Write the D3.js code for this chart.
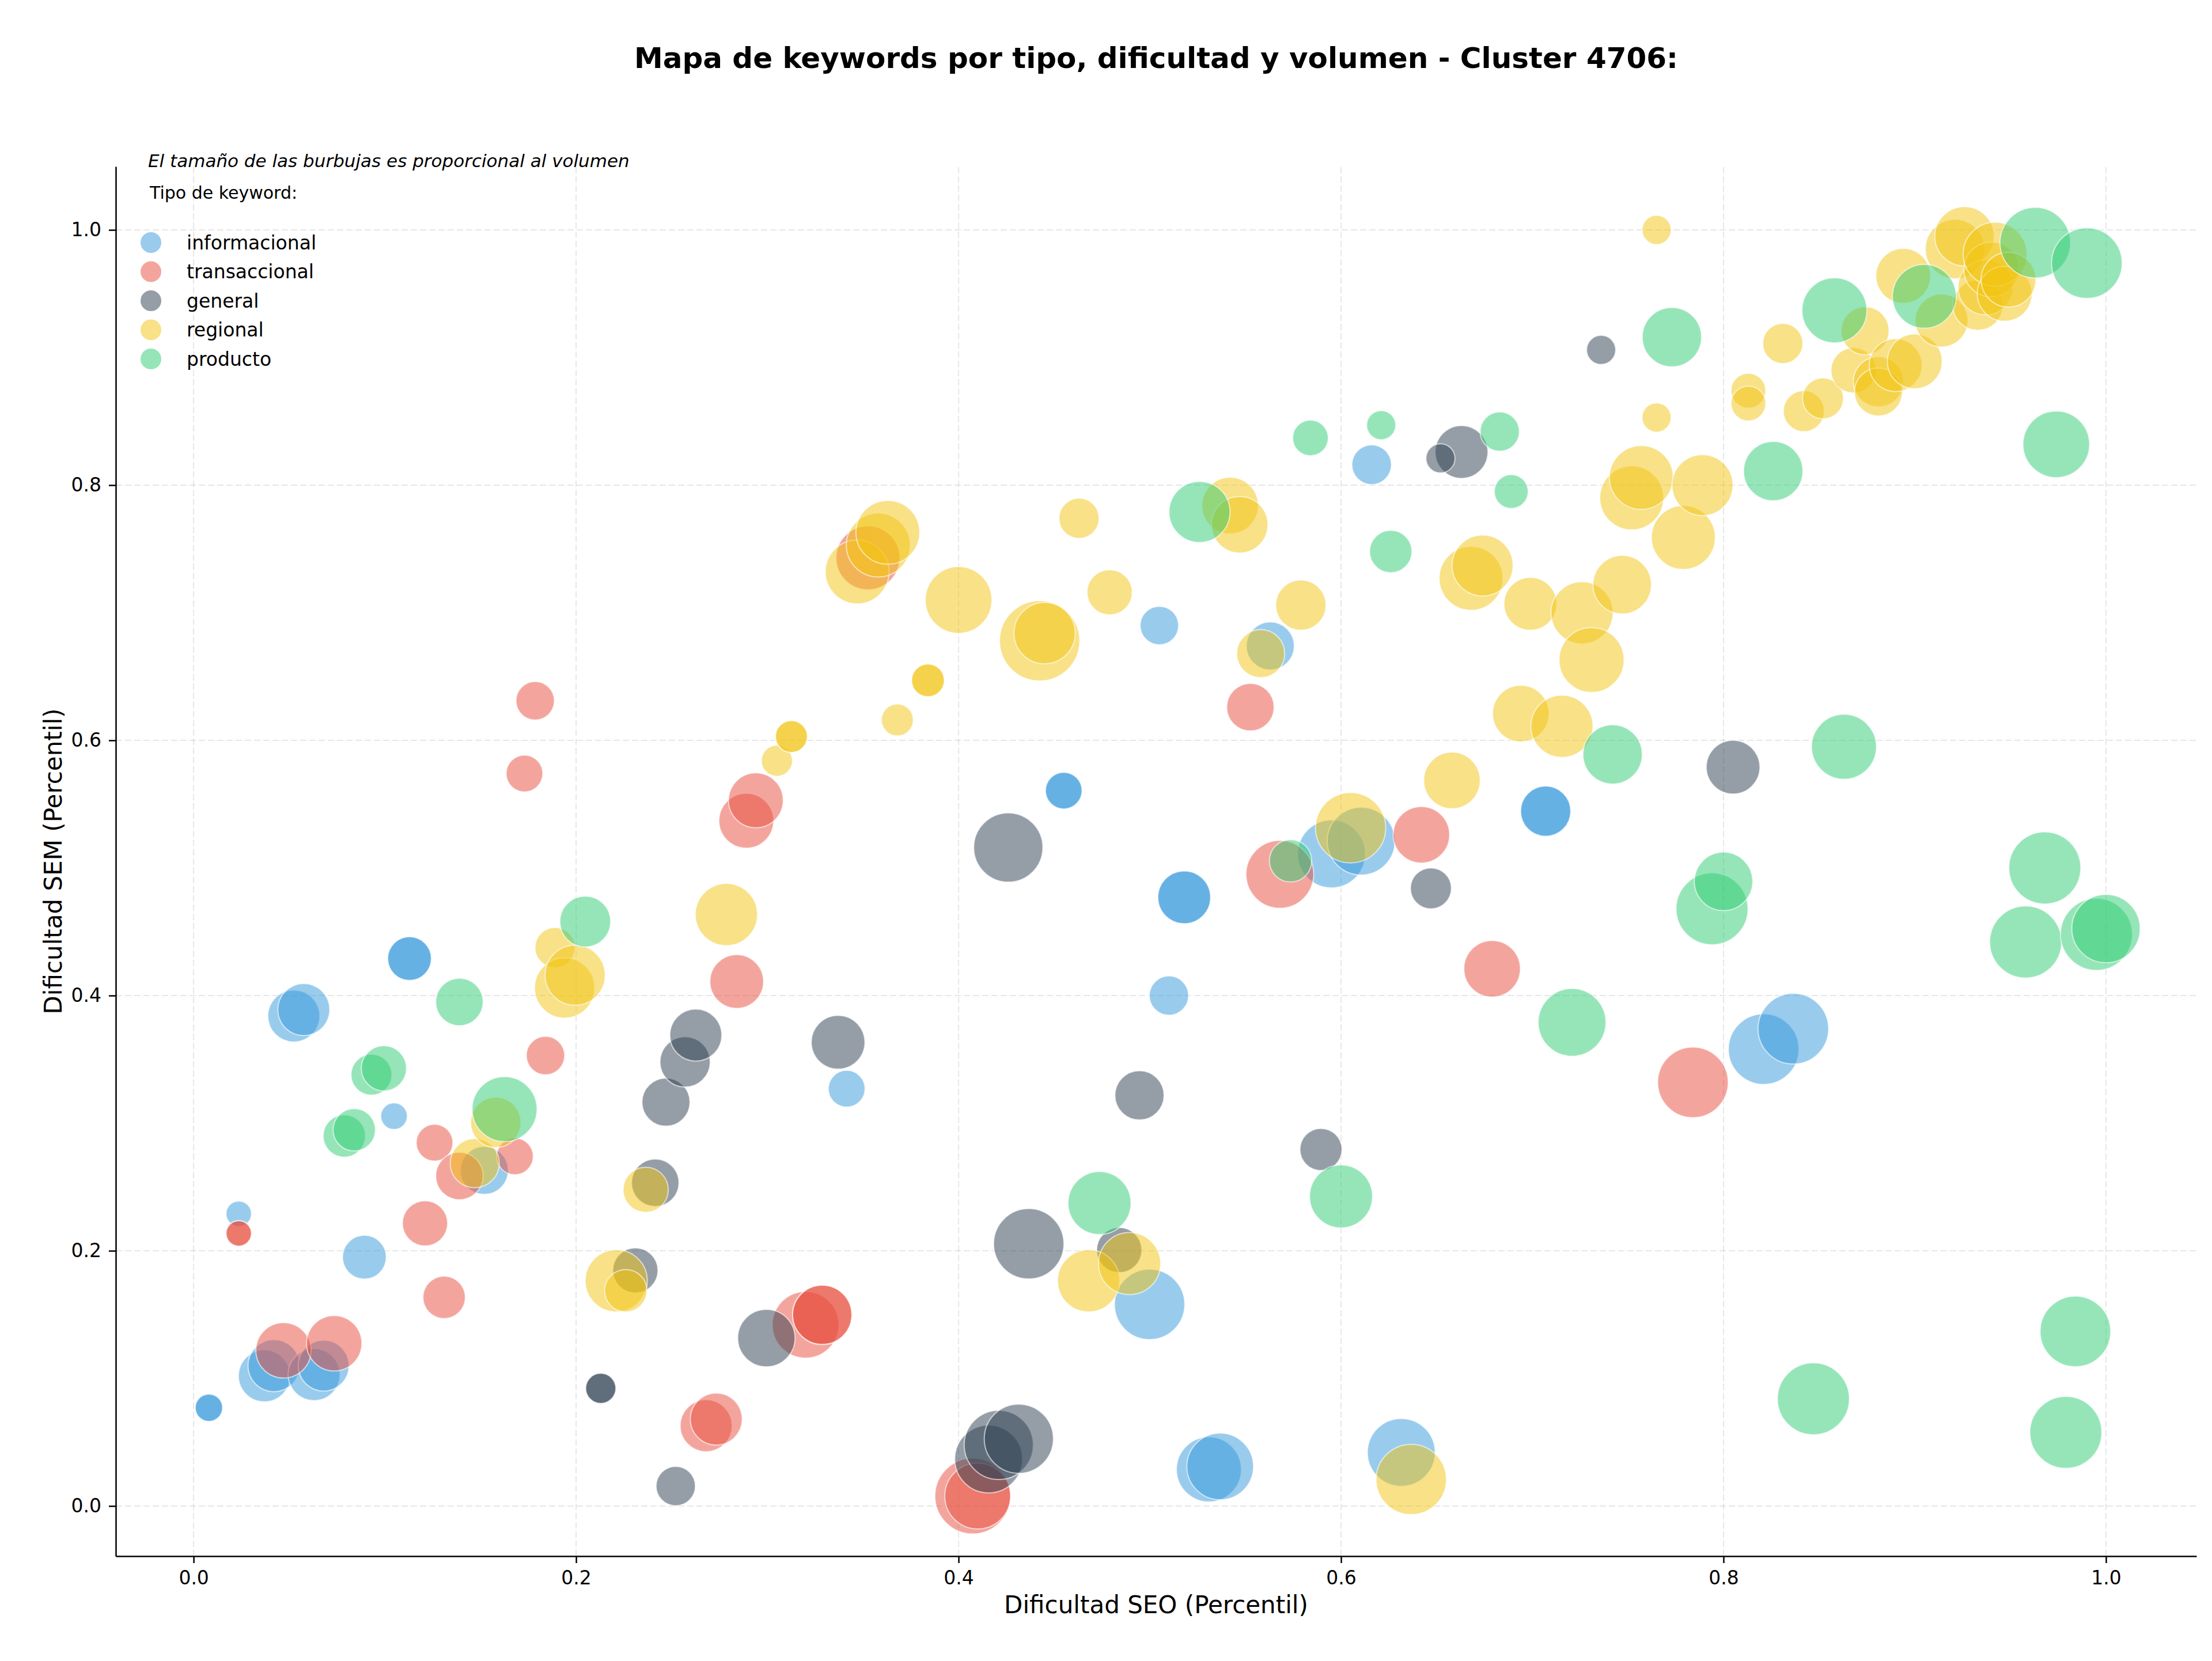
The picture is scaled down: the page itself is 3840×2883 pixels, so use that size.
<!DOCTYPE html>
<meta charset="utf-8">
<script src="https://d3js.org/d3.v7.min.js"></script>
<style>
body { margin: 0; background: #fff; }
text { font-family: "DejaVu Sans", sans-serif; fill: #000; }
.grid line { stroke: #b0b0b0; stroke-opacity: 0.3; stroke-width: 2; stroke-dasharray: 11,5; }
.axis path, .axis line { stroke: #000; stroke-width: 2.5; }
.axis text { font-size: 33px; }
</style>
<body>
<div id="chart"></div>
<script>
// [dificultad SEO, dificultad SEM, volumen]
var informacional = [
  [0.008,0.077,941],[0.008,0.077,941],[0.0236,0.229,810],
  [0.037,0.102,3386],[0.042,0.110,3386],[0.063,0.103,3386],[0.068,0.110,3240],
  [0.0524,0.384,3386],[0.0576,0.389,3386],[0.0893,0.195,2403],[0.1048,0.3055,884],
  [0.1129,0.429,2403],[0.1129,0.429,2403],[0.152,0.263,2890],[0.3415,0.327,1690],
  [0.455,0.5606,1690],[0.455,0.5606,1690],[0.4999,0.158,6200],[0.505,0.690,1850],
  [0.510,0.400,1932],[0.518,0.477,3497],[0.518,0.477,3497],[0.5309,0.0287,5290],
  [0.5368,0.031,5570],[0.563,0.674,2890],[0.595,0.511,5760],[0.6105,0.521,5760],
  [0.616,0.816,1960],[0.6315,0.042,5760],[0.707,0.5445,3168],[0.707,0.5445,3168],
  [0.821,0.358,6250],[0.8365,0.374,6250]
];
var transaccional = [
  [0.0236,0.2136,810],[0.0236,0.2136,810],[0.047,0.122,3842],[0.0735,0.1275,3842],
  [0.121,0.2215,2560],[0.126,0.2847,1690],[0.131,0.1635,2250],[0.139,0.2586,2822],
  [0.168,0.274,1690],[0.173,0.574,1690],[0.1786,0.631,1850],[0.184,0.353,1850],
  [0.268,0.0629,3386],[0.2733,0.0681,3386],[0.284,0.411,3610],[0.289,0.537,3764],
  [0.294,0.553,3764],[0.320,0.142,5570],[0.3287,0.1498,4410],[0.3287,0.1498,4410],
  [0.3526,0.743,5108],[0.4074,0.0078,7182],[0.410,0.0078,5430],[0.5526,0.626,2822],
  [0.568,0.495,5760],[0.642,0.526,4000],[0.679,0.421,4000],[0.784,0.332,6250]
];
var general = [
  [0.2129,0.0922,1145],[0.2129,0.0922,1145],[0.231,0.1846,2560],[0.2414,0.2533,2822],
  [0.247,0.3165,2890],[0.2521,0.0156,1932],[0.257,0.348,3168],[0.2626,0.369,3386],
  [0.2995,0.1316,4121],[0.337,0.3634,3610],[0.4157,0.0368,5760],[0.421,0.0478,6000],
  [0.4315,0.0527,6000],[0.426,0.516,6000],[0.4367,0.2055,6200],[0.484,0.2006,2560],
  [0.4946,0.3218,3028],[0.5895,0.2794,2220],[0.647,0.484,2103],[0.663,0.826,3497],
  [0.652,0.821,1061],[0.736,0.906,1061],[0.805,0.579,3610]
];
var regional = [
  [0.147,0.2687,3028],[0.158,0.3006,3168],[0.189,0.4376,2016],[0.194,0.406,4537],
  [0.1995,0.416,4537],[0.221,0.1765,4840],[0.226,0.1687,2250],[0.2364,0.2478,2560],
  [0.2786,0.4635,4840],[0.305,0.584,1210],[0.3126,0.603,1277],[0.3126,0.603,1277],
  [0.347,0.732,5108],[0.358,0.753,5108],[0.363,0.763,5108],[0.368,0.616,1277],
  [0.384,0.647,1346],[0.384,0.647,1346],[0.400,0.710,5570],[0.4424,0.678,8066],
  [0.445,0.684,4709],[0.463,0.774,2016],[0.468,0.1765,4840],[0.479,0.716,2560],
  [0.4894,0.19,4840],[0.542,0.784,4000],[0.547,0.769,4000],[0.558,0.668,2890],
  [0.579,0.706,3168],[0.605,0.5315,6200],[0.6367,0.0208,6200],[0.658,0.5686,4000],
  [0.668,0.727,5108],[0.674,0.737,4666],[0.694,0.621,4000],[0.699,0.707,3497],
  [0.7155,0.611,4840],[0.726,0.700,4840],[0.731,0.663,5290],[0.747,0.722,4285],
  [0.752,0.790,5108],[0.757,0.806,5108],[0.765,1.0,1061],[0.765,0.853,1061],
  [0.779,0.759,5108],[0.789,0.800,4666],[0.813,0.874,1513],[0.813,0.864,1513],
  [0.831,0.911,2016],[0.842,0.858,2103],[0.852,0.868,2103],[0.868,0.890,2560],
  [0.874,0.921,2890],[0.881,0.881,3168],[0.881,0.873,2890],[0.890,0.894,3497],
  [0.900,0.897,3764],[0.894,0.964,3764],[0.914,0.929,3497],[0.921,0.985,4410],
  [0.926,0.995,4410],[0.933,0.941,3168],[0.937,0.955,3764],[0.940,0.969,3764],
  [0.942,0.981,5108],[0.947,0.950,3764],[0.949,0.961,3764]
];
var producto = [
  [0.0788,0.290,2250],[0.084,0.2948,2250],[0.093,0.338,2103],[0.0995,0.343,2560],
  [0.139,0.395,2822],[0.1626,0.311,5290],[0.2048,0.458,3240],[0.4737,0.2374,4973],
  [0.526,0.779,4666],[0.5736,0.5056,2250],[0.584,0.837,1588],[0.600,0.2426,4973],
  [0.621,0.847,1061],[0.626,0.748,2250],[0.683,0.842,1932],[0.689,0.795,1440],
  [0.7208,0.379,5760],[0.742,0.589,4410],[0.773,0.916,4410],[0.794,0.468,6500],
  [0.800,0.4895,4285],[0.826,0.811,4410],[0.847,0.084,6500],[0.858,0.937,5290],
  [0.863,0.595,5290],[0.905,0.948,5108],[0.958,0.442,6500],[0.963,0.990,6250],
  [0.968,0.500,6500],[0.974,0.832,5570],[0.979,0.0577,6500],[0.984,0.1368,6250],
  [0.990,0.974,6250],[0.995,0.448,6500],[1.0,0.4525,5856]
];

var tipos = ["informacional", "transaccional", "general", "regional", "producto"];
var colores = ["#3498db", "#e74c3c", "#2c3e50", "#f1c40f", "#2ecc71"];
var series = [informacional, transaccional, general, regional, producto];
var ticks = [0, 0.2, 0.4, 0.6, 0.8, 1.0];

var W = 3840, H = 2883;
var svg = d3.select("#chart").append("svg")
    .attr("width", W).attr("height", H);

var x = d3.scaleLinear().domain([-0.0407, 1.0473]).range([201, 3813]);
var y = d3.scaleLinear().domain([-0.0393, 1.0497]).range([2701, 289]);
var r = d3.scaleSqrt().domain([0, 10000]).range([0, 77.45]);

// grid
svg.append("g").attr("class", "grid")
  .selectAll("line.v").data(ticks).enter().append("line")
    .attr("x1", d => x(d)).attr("x2", d => x(d))
    .attr("y1", y.range()[0]).attr("y2", y.range()[1]);
svg.select(".grid")
  .selectAll("line.h").data(ticks).enter().append("line")
    .attr("y1", d => y(d)).attr("y2", d => y(d))
    .attr("x1", x.range()[0]).attr("x2", x.range()[1]);

// bubbles
series.forEach(function(data, i) {
  svg.append("g")
    .selectAll("circle").data(data).enter().append("circle")
      .attr("cx", d => x(d[0]))
      .attr("cy", d => y(d[1]))
      .attr("r", d => r(d[2]))
      .attr("fill", colores[i])
      .attr("fill-opacity", 0.5)
      .attr("stroke", "#fff")
      .attr("stroke-opacity", 0.6)
      .attr("stroke-width", 2);
});

// axes
svg.append("g").attr("class", "axis")
    .attr("transform", "translate(0," + y.range()[0] + ")")
    .call(d3.axisBottom(x).tickValues(ticks).tickFormat(d3.format(".1f"))
      .tickSize(12).tickSizeOuter(0).tickPadding(14));

svg.append("g").attr("class", "axis")
    .attr("transform", "translate(" + x.range()[0] + ",0)")
    .call(d3.axisLeft(y).tickValues(ticks).tickFormat(d3.format(".1f"))
      .tickSize(12).tickSizeOuter(0).tickPadding(13));

svg.selectAll(".axis text").attr("font-family", null);

// labels
svg.append("text")
    .attr("x", 2007).attr("y", 118)
    .attr("text-anchor", "middle")
    .style("font-size", "50px").style("font-weight", "bold")
    .text("Mapa de keywords por tipo, dificultad y volumen - Cluster 4706:");

svg.append("text")
    .attr("x", 2007).attr("y", 2800)
    .attr("text-anchor", "middle")
    .style("font-size", "42px")
    .text("Dificultad SEO (Percentil)");

svg.append("text")
    .attr("transform", "translate(107,1495) rotate(-90)")
    .attr("text-anchor", "middle")
    .style("font-size", "42px")
    .text("Dificultad SEM (Percentil)");

// legend
svg.append("text")
    .attr("x", 257).attr("y", 290)
    .style("font-size", "31px").style("font-style", "italic")
    .text("El tamaño de las burbujas es proporcional al volumen");

svg.append("text")
    .attr("x", 260).attr("y", 345)
    .style("font-size", "30px")
    .text("Tipo de keyword:");

var legend = svg.append("g").selectAll("g").data(tipos).enter().append("g")
    .attr("transform", (d, i) => "translate(262," + (421 + i * 50.5) + ")");
legend.append("circle")
    .attr("r", 18)
    .attr("fill", (d, i) => colores[i])
    .attr("fill-opacity", 0.5);
legend.append("text")
    .attr("x", 62).attr("dy", "0.36em")
    .style("font-size", "33px")
    .text(d => d);
</script>
</body>
